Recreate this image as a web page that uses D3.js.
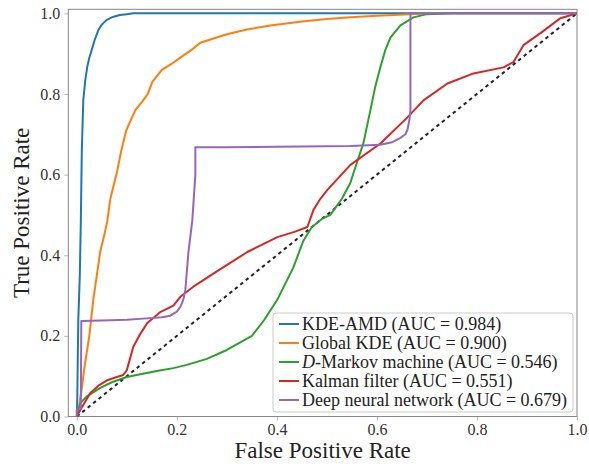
<!DOCTYPE html>
<html>
<head>
<meta charset="utf-8">
<script src="https://cdn.jsdelivr.net/npm/d3@7"></script>
<style>
  body { margin: 0; background: #fff; }
</style>
</head>
<body>
<script>
const w = 589;
const h = 466;
const serif = "'Liberation Serif', 'DejaVu Serif', serif";

// ROC curves
const blueFpr = [0, 0.001, 0.002, 0.003, 0.006, 0.008, 0.010, 0.013, 0.017, 0.021, 0.025, 0.030, 0.036, 0.043, 0.050, 0.060, 0.072, 0.086, 0.100, 0.113, 0.150, 1.0];
const blueTpr = [0, 0.05, 0.15, 0.24, 0.35, 0.48, 0.66, 0.785, 0.835, 0.868, 0.89, 0.91, 0.935, 0.958, 0.972, 0.984, 0.991, 0.996, 0.998, 1.0, 1.0, 1.0];

const orangeFpr = [0, 0.005, 0.010, 0.015, 0.020, 0.025, 0.033, 0.040, 0.047, 0.055, 0.061, 0.067, 0.075, 0.081, 0.089, 0.099, 0.108, 0.117, 0.130, 0.142, 0.151, 0.170, 0.190, 0.207, 0.230, 0.247, 0.267, 0.300, 0.340, 0.387, 0.450, 0.500, 0.547, 0.600, 0.667, 0.700, 1.0];
const orangeTpr = [0, 0.03, 0.07, 0.12, 0.16, 0.20, 0.29, 0.35, 0.41, 0.45, 0.485, 0.54, 0.58, 0.61, 0.66, 0.71, 0.735, 0.76, 0.78, 0.80, 0.83, 0.86, 0.875, 0.89, 0.91, 0.927, 0.935, 0.948, 0.96, 0.97, 0.98, 0.986, 0.99, 0.994, 0.998, 1.0, 1.0];

const greenFpr = [0, 0.007, 0.02, 0.047, 0.07, 0.1, 0.127, 0.16, 0.193, 0.22, 0.26, 0.3, 0.35, 0.375, 0.401, 0.433, 0.453, 0.47, 0.49, 0.507, 0.53, 0.547, 0.56, 0.573, 0.587, 0.597, 0.607, 0.617, 0.627, 0.647, 0.673, 0.7, 0.75, 1.0];
const greenTpr = [0, 0.033, 0.05, 0.071, 0.085, 0.098, 0.105, 0.113, 0.12, 0.128, 0.143, 0.165, 0.2, 0.24, 0.29, 0.37, 0.436, 0.47, 0.49, 0.5, 0.54, 0.58, 0.63, 0.678, 0.76, 0.82, 0.867, 0.91, 0.94, 0.97, 0.99, 0.998, 1.0, 1.0];

const redFpr = [0, 0.007, 0.027, 0.045, 0.061, 0.08, 0.093, 0.1, 0.113, 0.127, 0.141, 0.167, 0.193, 0.207, 0.233, 0.28, 0.341, 0.401, 0.435, 0.461, 0.473, 0.487, 0.501, 0.547, 0.607, 0.661, 0.693, 0.741, 0.793, 0.853, 0.873, 0.893, 0.927, 0.967, 1.0];
const redTpr = [0, 0.016, 0.058, 0.078, 0.09, 0.098, 0.103, 0.115, 0.173, 0.205, 0.232, 0.259, 0.275, 0.297, 0.322, 0.36, 0.408, 0.445, 0.458, 0.47, 0.512, 0.54, 0.562, 0.624, 0.677, 0.742, 0.784, 0.826, 0.851, 0.866, 0.879, 0.921, 0.951, 0.988, 1.0];

const purpleFpr = [0, 0, 0.008, 0.009, 0.05, 0.1, 0.147, 0.17, 0.187, 0.2, 0.207, 0.213, 0.217, 0.223, 0.231, 0.237, 0.237, 0.3, 0.4, 0.547, 0.607, 0.63, 0.647, 0.657, 0.661, 0.665, 0.667, 0.667, 1.0];
const purpleTpr = [0, 0.015, 0.02, 0.237, 0.238, 0.24, 0.244, 0.246, 0.25, 0.26, 0.272, 0.29, 0.314, 0.405, 0.487, 0.6, 0.668, 0.668, 0.669, 0.671, 0.674, 0.68, 0.691, 0.7, 0.711, 0.736, 0.76, 1.0, 1.0];

const seriesNames = ["KDE-AMD", "Global KDE", "D-Markov machine", "Kalman filter", "Deep neural network"];
const aucs = ["0.984", "0.900", "0.546", "0.551", "0.679"];
const colors = ["#1f77b4", "#ff7f0e", "#2ca02c", "#d62728", "#9467bd"];
const tickVals = [0, 0.2, 0.4, 0.6, 0.8, 1.0];

const series = [
  [blueFpr, blueTpr], [orangeFpr, orangeTpr], [greenFpr, greenTpr],
  [redFpr, redTpr], [purpleFpr, purpleTpr]
];

const plotLeft = 68.3, plotRight = 577, plotTop = 9.3, plotBottom = 416.5;

const svg = d3.select("body")
              .append("svg")
              .attr("width", w)
              .attr("height", h)
              .style("font-family", serif);

const x = d3.scaleLinear().domain([-0.017, 1.0]).range([plotLeft, plotRight]);
const y = d3.scaleLinear().domain([0, 1.01]).range([plotBottom, plotTop]);

const line = d3.line()
               .x(d => x(d[0]))
               .y(d => y(d[1]));

// axes
const xAxis = svg.append("g")
   .attr("transform", "translate(0," + plotBottom + ")")
   .call(d3.axisBottom(x).tickValues(tickVals).tickFormat(d3.format(".1f")).tickSize(4).tickPadding(3));
const yAxis = svg.append("g")
   .attr("transform", "translate(" + plotLeft + ",0)")
   .call(d3.axisLeft(y).tickValues(tickVals).tickFormat(d3.format(".1f")).tickSize(4).tickPadding(4));

[xAxis, yAxis].forEach(g => {
  g.attr("font-family", null).attr("font-size", null);
  g.select(".domain").remove();
  g.selectAll(".tick line").attr("stroke", "#bbb");
  g.selectAll(".tick text")
   .attr("fill", "#333")
   .style("font-family", serif)
   .style("font-size", "16px");
});

// frame
svg.append("rect")
   .attr("x", plotLeft)
   .attr("y", plotTop)
   .attr("width", plotRight - plotLeft)
   .attr("height", plotBottom - plotTop)
   .attr("fill", "none")
   .attr("stroke", "#888")
   .attr("stroke-width", 1);

// chance diagonal
svg.append("path")
   .attr("d", line([[0, 0], [1, 1]]))
   .attr("fill", "none")
   .attr("stroke", "#222")
   .attr("stroke-width", 2)
   .attr("stroke-dasharray", "3.5,3.5");

svg.append("g")
   .selectAll("path")
   .data(series)
   .enter()
   .append("path")
   .attr("d", s => line(d3.zip(s[0], s[1])))
   .attr("fill", "none")
   .attr("stroke", (s, i) => colors[i])
   .attr("stroke-width", 2)
   .attr("stroke-linejoin", "round");

// axis labels
svg.append("text")
   .attr("x", (plotLeft + plotRight) / 2)
   .attr("y", 458)
   .attr("text-anchor", "middle")
   .attr("fill", "#222")
   .style("font-size", "23px")
   .text("False Positive Rate");

svg.append("text")
   .attr("transform", "translate(29," + ((plotTop + plotBottom) / 2) + ") rotate(-90)")
   .attr("text-anchor", "middle")
   .attr("fill", "#222")
   .style("font-size", "23px")
   .text("True Positive Rate");

// legend
const legend = svg.append("g");
legend.append("rect")
   .attr("x", 273)
   .attr("y", 313)
   .attr("width", 300)
   .attr("height", 99)
   .attr("rx", 3)
   .attr("fill", "#fff")
   .attr("fill-opacity", 0.8)
   .attr("stroke", "#ccc");

const items = legend.selectAll(".item")
   .data(seriesNames)
   .enter()
   .append("g")
   .attr("class", "item")
   .attr("transform", (d, i) => "translate(0," + (324 + i * 19) + ")");

items.append("line")
   .attr("x1", 279).attr("x2", 299)
   .attr("y1", 0).attr("y2", 0)
   .attr("stroke", (d, i) => colors[i])
   .attr("stroke-width", 2);

items.append("text")
   .attr("x", 302)
   .attr("y", 5.5)
   .attr("fill", "#222")
   .style("font-size", "18px")
   .each(function(d, i) {
     const t = d3.select(this);
     if (d.startsWith("D-")) {
       t.append("tspan").style("font-style", "italic").text("D");
       t.append("tspan").text(d.slice(1) + " (AUC = " + aucs[i] + ")");
     } else {
       t.text(d + " (AUC = " + aucs[i] + ")");
     }
   });
</script>
</body>
</html>
